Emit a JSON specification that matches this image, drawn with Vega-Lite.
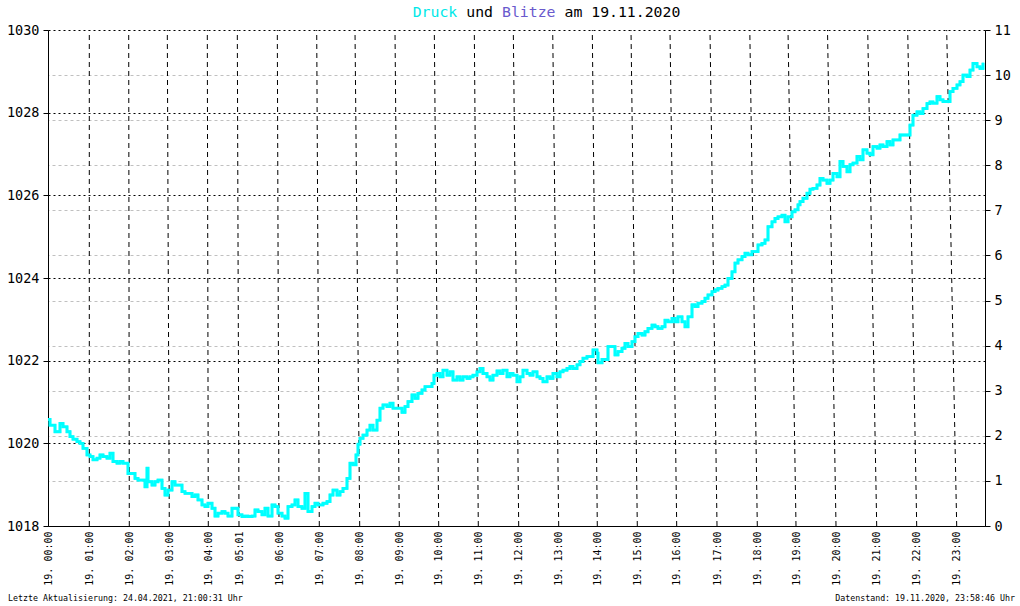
{
  "$schema": "https://vega.github.io/schema/vega-lite/v6.json",
  "width": 937,
  "height": 496,
  "autosize": "none",
  "padding": {"left": 48, "top": 30, "right": 35, "bottom": 80},
  "background": "white",
  "config": {"view": {"stroke": null}},
  "datasets": {
    "druck": [
      {"i":0,"p":1020.58},{"i":2,"p":1020.44},{"i":5,"p":1020.44},{"i":7,"p":1020.28},{"i":12,"p":1020.48},{"i":15,"p":1020.40},{"i":19,"p":1020.28},{"i":22,"p":1020.16},{"i":25,"p":1020.10},{"i":29,"p":1020.04},{"i":32,"p":1020.00},{"i":35,"p":1019.88},{"i":39,"p":1019.72},{"i":42,"p":1019.68},{"i":45,"p":1019.60},{"i":49,"p":1019.64},{"i":52,"p":1019.72},{"i":55,"p":1019.68},{"i":59,"p":1019.64},{"i":62,"p":1019.76},{"i":65,"p":1019.56},{"i":69,"p":1019.52},{"i":72,"p":1019.56},{"i":75,"p":1019.52},{"i":79,"p":1019.52},{"i":80,"p":1019.27},{"i":84,"p":1019.27},{"i":87,"p":1019.15},{"i":90,"p":1019.11},{"i":94,"p":1019.11},{"i":97,"p":1018.95},{"i":99,"p":1019.40},{"i":100,"p":1019.07},{"i":104,"p":1018.99},{"i":107,"p":1019.07},{"i":110,"p":1019.11},{"i":114,"p":1018.91},{"i":117,"p":1018.75},{"i":120,"p":1018.87},{"i":124,"p":1019.07},{"i":127,"p":1018.99},{"i":130,"p":1018.99},{"i":134,"p":1018.83},{"i":137,"p":1018.79},{"i":140,"p":1018.79},{"i":144,"p":1018.71},{"i":147,"p":1018.75},{"i":150,"p":1018.63},{"i":154,"p":1018.51},{"i":157,"p":1018.47},{"i":160,"p":1018.55},{"i":164,"p":1018.43},{"i":167,"p":1018.24},{"i":170,"p":1018.31},{"i":174,"p":1018.35},{"i":177,"p":1018.31},{"i":180,"p":1018.24},{"i":184,"p":1018.43},{"i":187,"p":1018.43},{"i":190,"p":1018.27},{"i":194,"p":1018.23},{"i":197,"p":1018.24},{"i":200,"p":1018.23},{"i":204,"p":1018.24},{"i":207,"p":1018.39},{"i":210,"p":1018.35},{"i":214,"p":1018.27},{"i":217,"p":1018.43},{"i":220,"p":1018.24},{"i":224,"p":1018.51},{"i":227,"p":1018.47},{"i":230,"p":1018.31},{"i":234,"p":1018.24},{"i":237,"p":1018.19},{"i":240,"p":1018.47},{"i":244,"p":1018.51},{"i":247,"p":1018.63},{"i":250,"p":1018.47},{"i":254,"p":1018.43},{"i":257,"p":1018.79},{"i":260,"p":1018.35},{"i":264,"p":1018.47},{"i":267,"p":1018.55},{"i":270,"p":1018.51},{"i":275,"p":1018.55},
      {"i":279,"p":1018.59},{"i":282,"p":1018.75},{"i":285,"p":1018.87},{"i":289,"p":1018.75},{"i":292,"p":1018.83},{"i":295,"p":1018.91},{"i":299,"p":1019.15},{"i":302,"p":1019.52},{"i":305,"p":1019.48},{"i":308,"p":1019.72},{"i":310,"p":1019.98},{"i":312,"p":1020.12},{"i":315,"p":1020.20},{"i":319,"p":1020.32},{"i":322,"p":1020.44},{"i":325,"p":1020.32},{"i":329,"p":1020.56},{"i":332,"p":1020.85},{"i":335,"p":1020.93},{"i":339,"p":1020.89},{"i":342,"p":1020.97},{"i":345,"p":1020.85},{"i":349,"p":1020.85},{"i":352,"p":1020.85},{"i":354,"p":1020.75},{"i":357,"p":1020.89},{"i":360,"p":1021.01},{"i":364,"p":1021.17},{"i":367,"p":1021.09},{"i":370,"p":1021.21},{"i":374,"p":1021.29},{"i":377,"p":1021.37},{"i":380,"p":1021.37},{"i":384,"p":1021.45},{"i":386,"p":1021.65},{"i":389,"p":1021.69},{"i":392,"p":1021.61},{"i":395,"p":1021.77},{"i":399,"p":1021.65},{"i":402,"p":1021.73},{"i":405,"p":1021.53},{"i":409,"p":1021.61},{"i":412,"p":1021.53},{"i":415,"p":1021.61},{"i":419,"p":1021.57},{"i":422,"p":1021.61},{"i":425,"p":1021.65},{"i":429,"p":1021.73},{"i":432,"p":1021.81},{"i":435,"p":1021.69},{"i":439,"p":1021.61},{"i":442,"p":1021.53},{"i":445,"p":1021.65},{"i":449,"p":1021.75},{"i":452,"p":1021.69},{"i":455,"p":1021.77},{"i":459,"p":1021.61},{"i":462,"p":1021.69},{"i":465,"p":1021.65},{"i":469,"p":1021.49},{"i":472,"p":1021.61},{"i":475,"p":1021.77},{"i":479,"p":1021.69},{"i":482,"p":1021.65},{"i":485,"p":1021.73},{"i":489,"p":1021.61},{"i":492,"p":1021.57},{"i":495,"p":1021.49},{"i":499,"p":1021.61},{"i":502,"p":1021.57},{"i":505,"p":1021.69},{"i":509,"p":1021.61},{"i":512,"p":1021.73},{"i":515,"p":1021.77},{"i":519,"p":1021.81},{"i":522,"p":1021.86},{"i":525,"p":1021.81},{"i":529,"p":1021.90},{"i":532,"p":1021.98},{"i":535,"p":1022.06},{"i":539,"p":1022.10},{"i":542,"p":1022.10},
      {"i":545,"p":1022.26},{"i":549,"p":1022.18},{"i":550,"p":1021.95},{"i":554,"p":1022.03},{"i":557,"p":1022.03},{"i":560,"p":1022.34},{"i":564,"p":1022.34},{"i":567,"p":1022.14},{"i":570,"p":1022.22},{"i":574,"p":1022.30},{"i":577,"p":1022.42},{"i":580,"p":1022.34},{"i":584,"p":1022.46},{"i":587,"p":1022.58},{"i":590,"p":1022.66},{"i":594,"p":1022.62},{"i":597,"p":1022.70},{"i":600,"p":1022.78},{"i":604,"p":1022.86},{"i":607,"p":1022.82},{"i":610,"p":1022.78},{"i":614,"p":1022.82},{"i":617,"p":1022.98},{"i":620,"p":1022.94},{"i":624,"p":1023.02},{"i":627,"p":1022.94},{"i":630,"p":1023.06},{"i":634,"p":1022.94},{"i":637,"p":1022.82},{"i":640,"p":1023.06},{"i":644,"p":1023.35},{"i":647,"p":1023.31},{"i":650,"p":1023.39},{"i":654,"p":1023.43},{"i":657,"p":1023.51},{"i":660,"p":1023.59},{"i":664,"p":1023.67},{"i":667,"p":1023.71},{"i":670,"p":1023.75},{"i":674,"p":1023.79},{"i":677,"p":1023.83},{"i":680,"p":1023.99},{"i":684,"p":1024.15},{"i":687,"p":1024.36},{"i":690,"p":1024.44},{"i":694,"p":1024.52},{"i":697,"p":1024.60},{"i":700,"p":1024.56},{"i":704,"p":1024.64},{"i":707,"p":1024.64},{"i":710,"p":1024.80},{"i":714,"p":1024.84},{"i":717,"p":1024.92},{"i":720,"p":1025.24},{"i":724,"p":1025.36},{"i":727,"p":1025.44},{"i":730,"p":1025.48},{"i":734,"p":1025.52},{"i":737,"p":1025.36},{"i":740,"p":1025.48},{"i":744,"p":1025.60},{"i":747,"p":1025.65},{"i":750,"p":1025.77},{"i":752,"p":1025.85},
      {"i":755,"p":1025.93},{"i":759,"p":1026.05},{"i":762,"p":1026.15},{"i":765,"p":1026.17},{"i":769,"p":1026.25},{"i":772,"p":1026.41},{"i":775,"p":1026.37},{"i":779,"p":1026.29},{"i":782,"p":1026.37},{"i":785,"p":1026.53},{"i":789,"p":1026.45},{"i":792,"p":1026.82},{"i":795,"p":1026.70},{"i":799,"p":1026.57},{"i":802,"p":1026.74},{"i":805,"p":1026.78},{"i":809,"p":1026.94},{"i":812,"p":1026.86},{"i":815,"p":1027.10},{"i":819,"p":1027.02},{"i":822,"p":1026.98},{"i":825,"p":1027.18},{"i":829,"p":1027.14},{"i":832,"p":1027.22},{"i":835,"p":1027.18},{"i":839,"p":1027.30},{"i":842,"p":1027.22},{"i":845,"p":1027.34},{"i":849,"p":1027.34},{"i":852,"p":1027.46},{"i":855,"p":1027.46},{"i":859,"p":1027.46},{"i":862,"p":1027.70},{"i":865,"p":1027.94},{"i":869,"p":1028.02},{"i":872,"p":1027.98},{"i":875,"p":1028.10},{"i":879,"p":1028.22},{"i":882,"p":1028.26},{"i":885,"p":1028.23},{"i":889,"p":1028.39},{"i":892,"p":1028.31},{"i":895,"p":1028.27},{"i":899,"p":1028.27},{"i":902,"p":1028.51},{"i":905,"p":1028.59},{"i":909,"p":1028.67},{"i":912,"p":1028.75},{"i":915,"p":1028.91},{"i":919,"p":1028.87},{"i":922,"p":1029.03},{"i":925,"p":1029.19},{"i":929,"p":1029.11},{"i":932,"p":1029.07},{"i":935,"p":1029.21}
    ],
    "stunden": [
      {"h":"01:00","xb":41.3,"xt":41.3},{"h":"02:00","xb":81.3,"xt":80.7},{"h":"03:00","xb":121.3,"xt":119.3},{"h":"04:00","xb":160.3,"xt":159.3},{"h":"05:01","xb":191,"xt":189.3},{"h":"06:00","xb":231,"xt":229.3},{"h":"07:00","xb":271.3,"xt":268.7},{"h":"08:00","xb":311.7,"xt":307},{"h":"09:00","xb":351.3,"xt":347},{"h":"10:00","xb":390.7,"xt":386.3},{"h":"11:00","xb":430.3,"xt":426.3},{"h":"12:00","xb":470.7,"xt":465.3},{"h":"13:00","xb":510.7,"xt":504.7},{"h":"14:00","xb":549.3,"xt":544.3},{"h":"15:00","xb":589.3,"xt":583},{"h":"16:00","xb":628.7,"xt":622},{"h":"17:00","xb":669,"xt":662},{"h":"18:00","xb":709.3,"xt":701.8},{"h":"19:00","xb":748,"xt":740},{"h":"20:00","xb":788,"xt":779.5},{"h":"21:00","xb":828.7,"xt":819.7},{"h":"22:00","xb":868.7,"xt":859.7},{"h":"23:00","xb":908.7,"xt":898.7}
    ],
    "blitze": [{"i": 0, "n": 0}],
    "eins": [{}]
  },
  "resolve": {"scale": {"y": "independent"}},
  "layer": [
    {
      "layer": [
        {
          "data": {"name": "druck"},
          "mark": {"type": "line", "color": "#00ffff", "strokeWidth": 2.5, "interpolate": "step-after"},
          "encoding": {
            "x": {"field": "i", "type": "quantitative", "scale": {"domain": [0, 937], "nice": false, "zero": false},
              "axis": {"title": null, "orient": "bottom", "grid": false, "ticks": false, "tickSize": 0,
                "domainColor": "black", "domainWidth": 1,
                "values": [0.3,41.3,81.3,121.3,160.3,191,231,271.3,311.7,351.3,390.7,430.3,470.7,510.7,549.3,589.3,628.7,669,709.3,748,788,828.7,868.7,908.7],
                "labelExpr": "'19. ' + ['00:00','01:00','02:00','03:00','04:00','05:01','06:00','07:00','08:00','09:00','10:00','11:00','12:00','13:00','14:00','15:00','16:00','17:00','18:00','19:00','20:00','21:00','22:00','23:00'][indexof([0.3,41.3,81.3,121.3,160.3,191,231,271.3,311.7,351.3,390.7,430.3,470.7,510.7,549.3,589.3,628.7,669,709.3,748,788,828.7,868.7,908.7], datum.value)]",
                "labelAngle": 270, "labelAlign": "right", "labelBaseline": "middle", "labelPadding": 5,
                "labelFont": "DejaVu Sans Mono", "labelFontSize": 10, "labelColor": "black",
                "labelFlush": false, "labelOverlap": false}},
            "y": {"field": "p", "type": "quantitative", "scale": {"domain": [1018, 1030], "nice": false, "zero": false},
              "axis": {"title": null, "orient": "left", "values": [1018,1020,1022,1024,1026,1028,1030], "format": "d",
                "domainColor": "black", "domainWidth": 1, "tickColor": "black", "tickSize": 5, "tickWidth": 1,
                "labelFont": "DejaVu Sans Mono", "labelFontSize": 13.5, "labelColor": "black", "labelPadding": 4,
                "grid": true, "gridColor": "black", "gridDash": [2, 3], "gridWidth": 1, "gridOpacity": 1}}
          }
        },
        {
          "data": {"name": "stunden"},
          "mark": {"type": "rule", "color": "black", "strokeWidth": 1, "strokeDash": [5, 4]},
          "encoding": {
            "x": {"field": "xb", "type": "quantitative"},
            "x2": {"field": "xt"},
            "y": {"datum": 1018},
            "y2": {"datum": 1030}
          }
        },
        {
          "data": {"name": "druck"},
          "mark": {"type": "line", "color": "#00ffff", "strokeWidth": 2.8, "interpolate": "step-after"},
          "encoding": {
            "x": {"field": "i", "type": "quantitative"},
            "y": {"field": "p", "type": "quantitative"}
          }
        },
        {
          "data": {"name": "eins"},
          "mark": {"type": "text", "align": "left", "baseline": "middle", "font": "DejaVu Sans Mono", "fontSize": 14.8, "color": "#00e8e8"},
          "encoding": {"x": {"datum": 364.7}, "y": {"datum": 1030.4}, "text": {"value": "Druck"}}
        },
        {
          "data": {"name": "eins"},
          "mark": {"type": "text", "align": "left", "baseline": "middle", "font": "DejaVu Sans Mono", "fontSize": 14.8, "color": "black"},
          "encoding": {"x": {"datum": 418.3}, "y": {"datum": 1030.4}, "text": {"value": "und"}}
        },
        {
          "data": {"name": "eins"},
          "mark": {"type": "text", "align": "left", "baseline": "middle", "font": "DejaVu Sans Mono", "fontSize": 14.8, "color": "#6a5acd"},
          "encoding": {"x": {"datum": 454.0}, "y": {"datum": 1030.4}, "text": {"value": "Blitze"}}
        },
        {
          "data": {"name": "eins"},
          "mark": {"type": "text", "align": "left", "baseline": "middle", "font": "DejaVu Sans Mono", "fontSize": 14.8, "color": "black"},
          "encoding": {"x": {"datum": 516.5}, "y": {"datum": 1030.4}, "text": {"value": "am 19.11.2020"}}
        },
        {
          "data": {"name": "eins"},
          "mark": {"type": "text", "align": "left", "baseline": "middle", "font": "DejaVu Sans Mono", "fontSize": 8.3, "color": "black"},
          "encoding": {"x": {"datum": -40}, "y": {"datum": 1016.23}, "text": {"value": "Letzte Aktualisierung: 24.04.2021, 21:00:31 Uhr"}}
        },
        {
          "data": {"name": "eins"},
          "mark": {"type": "text", "align": "right", "baseline": "middle", "font": "DejaVu Sans Mono", "fontSize": 8.3, "color": "black"},
          "encoding": {"x": {"datum": 967}, "y": {"datum": 1016.23}, "text": {"value": "Datenstand: 19.11.2020, 23:58:46 Uhr"}}
        }
      ]
    },
    {
      "data": {"name": "blitze"},
      "mark": {"type": "point", "opacity": 0},
      "encoding": {
        "x": {"field": "i", "type": "quantitative"},
        "y": {"field": "n", "type": "quantitative", "scale": {"domain": [0, 11], "nice": false, "zero": false},
          "axis": {"title": null, "orient": "right", "values": [0,1,2,3,4,5,6,7,8,9,10,11], "format": "d",
            "domainColor": "black", "domainWidth": 1, "tickColor": "black", "tickSize": 5, "tickWidth": 1,
            "labelFont": "DejaVu Sans Mono", "labelFontSize": 13.5, "labelColor": "black", "labelPadding": 4,
            "grid": true, "gridColor": {"condition": {"test": "datum.value == 0 || datum.value == 11", "value": "transparent"}, "value": "#c0c0c0"},
            "gridDash": [3, 3], "gridWidth": 1}}
      }
    }
  ]
}
